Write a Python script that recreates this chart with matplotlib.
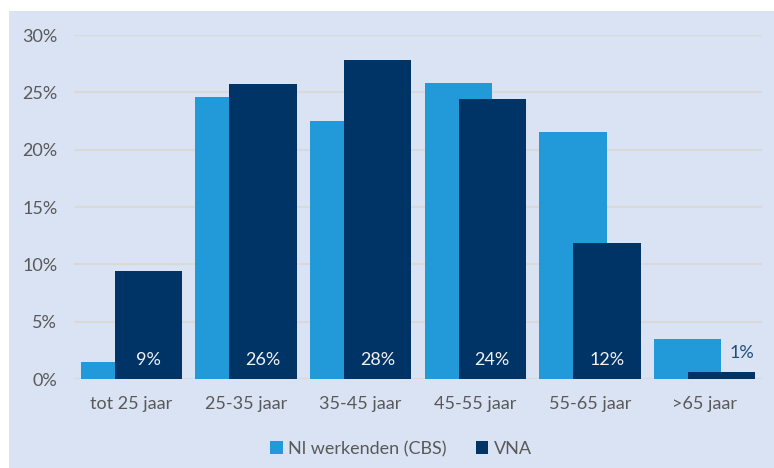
import matplotlib.pyplot as plt
import matplotlib.ticker as ticker
from matplotlib.patches import Rectangle
import numpy as np

categories = ['tot 25 jaar', '25-35 jaar', '35-45 jaar', '45-55 jaar', '55-65 jaar', '>65 jaar']
cbs = [1.5, 24.6, 22.5, 25.8, 21.5, 3.5]
vna = [9.4, 25.7, 27.8, 24.4, 11.9, 0.6]
vna_labels = ['9%', '26%', '28%', '24%', '12%', '1%']

licht = '#2299d9'
donker = '#003366'
achtergrond = '#dae3f3'
grijs = '#595959'

plt.rcParams['font.family'] = ['Lato', 'DejaVu Sans']

W, H = 774, 468
fig = plt.figure(figsize=(W / 100, H / 100), dpi=100)
fig.patch.set_facecolor('white')
fig.patches.append(Rectangle((9 / W, 0), 1, (H - 11) / H, transform=fig.transFigure,
                             facecolor=achtergrond, edgecolor='none', zorder=-10))

ax = fig.add_axes([74 / W, (H - 379) / H, 688 / W, 344 / H])
ax.set_facecolor('none')

x = np.arange(len(categories))
w = 0.585
d = 0.148
ax.bar(x - d, cbs, w, color=licht, label='Nl werkenden (CBS)', zorder=2)
ax.bar(x + d, vna, w, color=donker, label='VNA', zorder=3)

for i, lab in enumerate(vna_labels):
    if i < len(vna_labels) - 1:
        ax.text(x[i] + d, 1.65, lab, color='#f2f2f2', ha='center', va='center', fontsize=13, zorder=4)
    else:
        ax.text(x[i] + d + 0.18, 2.3, lab, color='#1f4e79', ha='center', va='center', fontsize=13, zorder=4)

ax.set_xlim(-0.5, len(categories) - 0.5)
ax.set_ylim(0, 30)
ax.yaxis.set_major_locator(ticker.MultipleLocator(5))
ax.yaxis.set_major_formatter(ticker.FuncFormatter(lambda v, p: '%d%%' % v))
ax.set_xticks(x)
ax.set_xticklabels(categories)
ax.grid(axis='y', color='#d9d9d9', linewidth=1.5, zorder=1)
ax.set_axisbelow(True)
for s in ax.spines.values():
    s.set_visible(False)
ax.tick_params(length=0, labelcolor=grijs, labelsize=13)
ax.tick_params(axis='y', pad=12)
ax.tick_params(axis='x', pad=12)

fig.legend(loc='center', bbox_to_anchor=(401 / W, 1 - 449 / H), ncol=2, frameon=False,
           fontsize=13, labelcolor=grijs, handlelength=0.7, handleheight=0.7,
           handletextpad=0.3, columnspacing=1.6)

fig.savefig('out.png', dpi=100)
